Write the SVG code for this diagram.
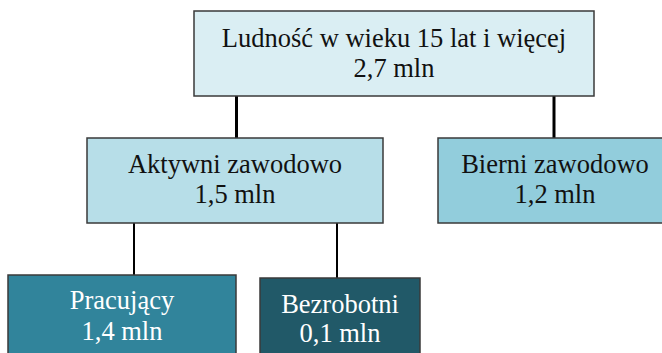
<svg xmlns="http://www.w3.org/2000/svg" width="662" height="353" viewBox="0 0 662 353">
<style>
.box{stroke:#3a3a3a;stroke-width:1.5}
.t{font-size:26.5px;text-anchor:middle;fill:#111}
.w{fill:#ffffff}
.c1{stroke:#000;stroke-width:3;fill:none}
.c2{stroke:#000;stroke-width:2;fill:none}
</style>
<rect width="662" height="353" fill="#ffffff"/>
<g id="connectors">
<line class="c1" x1="236.5" y1="96" x2="236.5" y2="138"/>
<line class="c1" x1="554" y1="96" x2="554" y2="138"/>
<line class="c2" x1="134" y1="223" x2="134" y2="276"/>
<line class="c2" x1="337" y1="223" x2="337" y2="278"/>
</g>
<g font-family="'Liberation Serif', 'DejaVu Serif', serif">
<g id="ludnosc">
<rect class="box" x="194" y="11" width="400" height="85" fill="#DAEEF3"/>
<text class="t" x="394" y="47">Ludność w wieku 15 lat i więcej</text>
<text class="t" x="394" y="77">2,7 mln</text>
</g>
<g id="aktywni">
<rect class="box" x="87" y="138" width="296" height="85" fill="#B7DEE8"/>
<text class="t" x="235" y="173">Aktywni zawodowo</text>
<text class="t" x="235" y="203">1,5 mln</text>
</g>
<g id="bierni">
<rect class="box" x="438" y="138" width="234" height="85" fill="#92CDDC"/>
<text class="t" x="555" y="173">Bierni zawodowo</text>
<text class="t" x="555" y="203">1,2 mln</text>
</g>
<g id="pracujacy">
<rect class="box" x="8" y="275" width="228" height="90" fill="#31849B"/>
<text class="t w" x="122" y="309">Pracujący</text>
<text class="t w" x="122" y="340">1,4 mln</text>
</g>
<g id="bezrobotni">
<rect class="box" x="260" y="278" width="160" height="90" fill="#215968"/>
<text class="t w" x="340" y="313">Bezrobotni</text>
<text class="t w" x="340" y="342">0,1 mln</text>
</g>
</g>
</svg>
